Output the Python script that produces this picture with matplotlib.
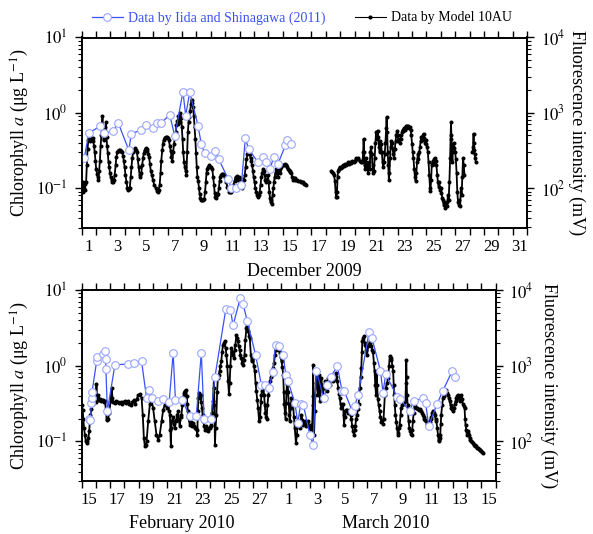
import matplotlib
matplotlib.use("Agg")
import matplotlib.pyplot as plt
from matplotlib.ticker import LogLocator, NullFormatter, FixedLocator, FixedFormatter
from matplotlib.lines import Line2D

plt.rcParams['font.family'] = ['Liberation Serif', 'DejaVu Serif']
plt.rcParams['mathtext.fontset'] = 'stix'

# ---------------- data: December 2009 (x = day of month, Dec 1 00:00 = 1) ----------------
dec_iida_day = [1.19, 1.51, 2.28, 2.55, 3.20, 3.55, 4.29, 4.47, 5.17, 5.51,
                5.97, 6.28, 6.56, 7.14, 7.49, 8.06, 8.25, 8.53, 9.11, 9.34,
                9.57, 10.03, 10.31, 10.56, 11.19, 11.42, 11.72, 12.12, 12.40, 12.63,
                13.28, 13.62, 13.85, 14.13, 14.37, 14.67, 15.19, 15.32, 15.60]
dec_iida_chl = [0.25, 0.54, 0.66, 0.54, 0.57, 0.74, 0.32, 0.53, 0.59, 0.68,
                0.63, 0.74, 0.74, 0.94, 0.49, 1.91, 0.92, 1.88, 0.67, 0.38,
                0.29, 0.27, 0.31, 0.24, 0.134, 0.10, 0.10, 0.109, 0.46, 0.33,
                0.22, 0.26, 0.22, 0.18, 0.26, 0.21, 0.37, 0.43, 0.39]

dec_a_day = [1.02, 1.07, 1.12, 1.17, 1.22, 1.27, 1.32, 1.37, 1.42, 1.47,
             1.52, 1.57, 1.62, 1.67, 1.72, 1.77, 1.82, 1.87, 1.92, 1.97,
             2.02, 2.08, 2.13, 2.18, 2.23, 2.28, 2.33, 2.38, 2.42, 2.46,
             2.50, 2.54, 2.58, 2.62, 2.66, 2.70, 2.74, 2.78, 2.83, 2.88,
             2.93, 2.98, 3.03, 3.09, 3.14, 3.20, 3.26, 3.31, 3.37, 3.43,
             3.49, 3.54, 3.59, 3.66, 3.71, 3.77, 3.83, 3.89, 3.94, 4.00,
             4.06, 4.13, 4.20, 4.27, 4.32, 4.36, 4.42, 4.47, 4.53, 4.59,
             4.67, 4.75, 4.81, 4.86, 4.92, 4.98, 5.04, 5.10, 5.16, 5.22,
             5.28, 5.33, 5.40, 5.47, 5.53, 5.59, 5.65, 5.70, 5.76, 5.82,
             5.89, 5.97, 6.06, 6.17, 6.24, 6.30, 6.37, 6.44, 6.50, 6.55,
             6.62, 6.67, 6.72, 6.78, 6.86, 6.94, 7.02, 7.08, 7.15, 7.21,
             7.26, 7.32, 7.38, 7.44, 7.50, 7.56, 7.61, 7.65, 7.70, 7.74,
             7.79, 7.83, 7.88, 7.93, 7.98, 8.03, 8.08, 8.14, 8.19, 8.24,
             8.30, 8.35, 8.40, 8.45, 8.50, 8.56, 8.61, 8.66, 8.71, 8.76,
             8.82, 8.87, 8.92, 8.97, 9.02, 9.07, 9.12, 9.18, 9.22, 9.28,
             9.35, 9.41, 9.48, 9.54, 9.60, 9.65, 9.70, 9.75, 9.80, 9.87,
             9.96, 10.03, 10.10, 10.16, 10.22, 10.27, 10.31, 10.38, 10.44, 10.50,
             10.56, 10.61, 10.66, 10.72, 10.78, 10.84, 10.91, 10.96, 11.02, 11.08,
             11.14, 11.19, 11.27, 11.35, 11.42, 11.48, 11.57, 11.65, 11.72, 11.77,
             11.82, 11.87, 11.95, 12.02, 12.09, 12.15, 12.23, 12.30, 12.36, 12.42,
             12.48, 12.54, 12.60, 12.66, 12.70, 12.76, 12.81, 12.87, 12.93, 12.98,
             13.04, 13.10, 13.16, 13.23, 13.28, 13.34, 13.40, 13.46, 13.51, 13.57,
             13.63, 13.69, 13.74, 13.80, 13.86, 13.91, 13.97, 14.02, 14.07, 14.11,
             14.16, 14.21, 14.26, 14.30, 14.35, 14.40, 14.44, 14.50, 14.55, 14.60,
             14.67, 14.72, 14.78, 14.82, 14.90, 15.00, 15.10, 15.15, 15.21, 15.26,
             15.33, 15.37, 15.43, 15.48, 15.54, 15.60, 15.66, 15.71, 15.77, 15.83,
             15.89, 15.94, 16.01, 16.09, 16.17, 16.27, 16.34, 16.41, 16.48, 16.55,
             16.62]
dec_a_chl = [0.10, 0.09, 0.12, 0.10, 0.093, 0.115, 0.12, 0.20, 0.33, 0.43,
             0.46, 0.48, 0.42, 0.47, 0.45, 0.46, 0.42, 0.36, 0.30, 0.23,
             0.18, 0.155, 0.14, 0.13, 0.17, 0.23, 0.36, 0.50, 0.64, 0.90,
             0.52, 0.45, 0.43, 0.55, 0.65, 0.75, 0.48, 0.36, 0.29, 0.22,
             0.19, 0.16, 0.14, 0.13, 0.12, 0.12, 0.13, 0.15, 0.20, 0.26,
             0.30, 0.31, 0.32, 0.31, 0.32, 0.31, 0.30, 0.27, 0.23, 0.19,
             0.15, 0.12, 0.10, 0.095, 0.097, 0.10, 0.14, 0.19, 0.25, 0.30,
             0.32, 0.34, 0.32, 0.30, 0.24, 0.19, 0.15, 0.14, 0.16, 0.20,
             0.25, 0.29, 0.32, 0.34, 0.33, 0.31, 0.28, 0.26, 0.21, 0.17,
             0.15, 0.13, 0.11, 0.10, 0.092, 0.09, 0.095, 0.11, 0.16, 0.23,
             0.32, 0.39, 0.44, 0.47, 0.48, 0.48, 0.46, 0.43, 0.36, 0.31,
             0.26, 0.23, 0.30, 0.39, 0.47, 0.55, 0.68, 0.79, 0.70, 0.92,
             0.80, 0.75, 1.0, 0.85, 0.65, 0.45, 0.30, 0.22, 0.19, 0.17,
             0.15, 0.30, 0.55, 0.75, 0.88, 1.05, 1.30, 1.5, 1.35, 1.2,
             0.90, 0.64, 0.45, 0.29, 0.19, 0.14, 0.125, 0.10, 0.084, 0.075,
             0.07, 0.069, 0.07, 0.072, 0.09, 0.12, 0.16, 0.18, 0.19, 0.20,
             0.19, 0.19, 0.18, 0.14, 0.11, 0.085, 0.077, 0.075, 0.08, 0.084,
             0.10, 0.125, 0.14, 0.15, 0.155, 0.155, 0.15, 0.145, 0.14, 0.12,
             0.105, 0.10, 0.09, 0.088, 0.09, 0.095, 0.11, 0.125, 0.14, 0.13,
             0.145, 0.13, 0.14, 0.135, 0.12, 0.10, 0.11, 0.13, 0.15, 0.19,
             0.24, 0.28, 0.30, 0.29, 0.28, 0.25, 0.23, 0.20, 0.17, 0.14,
             0.12, 0.10, 0.09, 0.08, 0.077, 0.082, 0.09, 0.11, 0.14, 0.16,
             0.18, 0.17, 0.15, 0.13, 0.12, 0.13, 0.15, 0.12, 0.09, 0.075,
             0.065, 0.069, 0.062, 0.08, 0.10, 0.12, 0.14, 0.16, 0.18, 0.16,
             0.14, 0.17, 0.18, 0.16, 0.19, 0.20, 0.20, 0.21, 0.20, 0.20,
             0.19, 0.18, 0.175, 0.17, 0.165, 0.16, 0.14, 0.13, 0.135, 0.135,
             0.13, 0.13, 0.128, 0.125, 0.125, 0.122, 0.12, 0.12, 0.115, 0.112,
             0.11]

dec_b_day = [18.39, 18.45, 18.51, 18.57, 18.63, 18.68, 18.72, 18.75, 18.78, 18.82,
             18.85, 18.90, 18.96, 19.03, 19.10, 19.17, 19.25, 19.33, 19.40, 19.48,
             19.55, 19.63, 19.70, 19.77, 19.85, 19.93, 20.01, 20.09, 20.15, 20.21,
             20.27, 20.35, 20.43, 20.50, 20.55, 20.60, 20.63, 20.67, 20.70, 20.73,
             20.77, 20.83, 20.90, 20.95, 21.00, 21.05, 21.10, 21.15, 21.20, 21.25,
             21.30, 21.35, 21.40, 21.45, 21.50, 21.55, 21.60, 21.65, 21.70, 21.75,
             21.80, 21.85, 21.90, 21.95, 22.00, 22.05, 22.10, 22.15, 22.20, 22.23,
             22.27, 22.31, 22.35, 22.39, 22.43, 22.47, 22.51, 22.55, 22.60, 22.65,
             22.70, 22.75, 22.80, 22.85, 22.90, 22.95, 23.00, 23.05, 23.10, 23.15,
             23.20, 23.25, 23.30, 23.35, 23.40, 23.45, 23.50, 23.55, 23.60, 23.65,
             23.70, 23.75, 23.80, 23.85, 23.90, 23.95, 24.00, 24.05, 24.10, 24.15,
             24.20, 24.25, 24.30, 24.35, 24.40, 24.45, 24.50, 24.55, 24.60, 24.65,
             24.70, 24.75, 24.80, 24.85, 24.90, 24.95, 25.00, 25.05, 25.10, 25.15,
             25.20, 25.25, 25.28, 25.33, 25.37, 25.43, 25.50, 25.55, 25.60, 25.65,
             25.70, 25.75, 25.80, 25.85, 25.90, 25.95, 26.00, 26.05, 26.10, 26.15,
             26.20, 26.25, 26.30, 26.35, 26.40, 26.45, 26.50, 26.55, 26.60, 26.65,
             26.68, 26.71, 26.74, 26.77, 26.81, 26.85, 26.90, 26.95, 27.00, 27.05,
             27.10, 27.15, 27.20, 27.25, 27.30, 27.35, 27.40, 27.45, 27.50, 27.55,
             27.60, 27.65]
dec_b_chl = [0.17, 0.165, 0.16, 0.15, 0.125, 0.09, 0.077, 0.076, 0.09, 0.14,
             0.17, 0.18, 0.19, 0.185, 0.19, 0.20, 0.195, 0.21, 0.20, 0.21,
             0.22, 0.21, 0.22, 0.215, 0.23, 0.22, 0.23, 0.25, 0.245, 0.24,
             0.25, 0.23, 0.22, 0.23, 0.22, 0.30, 0.45, 0.30, 0.20, 0.18,
             0.25, 0.22, 0.19, 0.16, 0.22, 0.18, 0.30, 0.35, 0.28, 0.20,
             0.16, 0.17, 0.25, 0.40, 0.55, 0.45, 0.58, 0.48, 0.35, 0.30,
             0.42, 0.38, 0.30, 0.22, 0.19, 0.22, 0.28, 0.40, 0.62, 0.87,
             0.55, 0.30, 0.20, 0.127, 0.16, 0.25, 0.35, 0.42, 0.40, 0.33,
             0.28, 0.25, 0.33, 0.42, 0.50, 0.58, 0.50, 0.42, 0.45, 0.40,
             0.45, 0.50, 0.55, 0.60, 0.58, 0.62, 0.60, 0.66, 0.63, 0.66,
             0.64, 0.66, 0.62, 0.64, 0.60, 0.50, 0.38, 0.30, 0.25, 0.18,
             0.14, 0.125, 0.16, 0.22, 0.28, 0.24, 0.30, 0.35, 0.42, 0.48,
             0.44, 0.50, 0.53, 0.46, 0.40, 0.43, 0.38, 0.35, 0.30, 0.22,
             0.15, 0.10, 0.092, 0.13, 0.20, 0.23, 0.21, 0.24, 0.25, 0.23,
             0.20, 0.15, 0.12, 0.105, 0.12, 0.095, 0.10, 0.085, 0.075, 0.07,
             0.06, 0.065, 0.055, 0.06, 0.058, 0.065, 0.08, 0.07, 0.12, 0.25,
             0.45, 0.75, 0.50, 0.30, 0.22, 0.35, 0.40, 0.34, 0.30, 0.24,
             0.16, 0.09, 0.065, 0.06, 0.07, 0.058, 0.10, 0.08, 0.14, 0.25,
             0.20, 0.15]

dec_c_day = [28.20, 28.25, 28.28, 28.30, 28.33, 28.36, 28.40, 28.44]
dec_c_chl = [0.30, 0.35, 0.53, 0.40, 0.32, 0.28, 0.25, 0.22]

dec_tick_labels = ['1', '3', '5', '7', '9', '11', '13', '15', '17', '19',
                   '21', '23', '25', '27', '29', '31']

# ---------------- data: Feb-Mar 2010 (x = day, Feb 15 00:00 = 15, Mar 1 00:00 = 29) ----------------
fm_iida_day = [15.56, 15.63, 15.68, 15.71, 15.74, 16.06, 16.11, 16.49, 16.64, 16.69,
               16.71, 16.81, 17.34, 18.26, 18.70, 19.21, 19.56, 19.71, 19.97, 20.37,
               20.68, 21.14, 21.42, 21.58, 22.07, 22.58, 23.04, 23.39, 23.59, 24.05,
               24.34, 25.11, 25.43, 25.62, 26.12, 26.31, 26.61, 27.19, 27.60, 27.87,
               28.13, 28.39, 28.59, 28.83, 29.13, 29.31, 29.47, 29.95, 30.15, 30.35,
               30.55, 30.99, 31.22, 31.45, 31.97, 32.21, 32.46, 32.93, 33.25, 33.39,
               33.97, 34.13, 34.37, 35.14, 35.35, 35.94, 36.12, 36.31, 37.10, 37.34,
               37.98, 38.28, 38.93, 39.11, 39.32, 39.90, 40.32, 40.98, 41.14]
fm_iida_chl = [0.20, 0.19, 0.32, 0.38, 0.45, 1.14, 1.30, 1.43, 1.58, 1.22,
               0.91, 0.25, 1.03, 1.05, 1.08, 1.14, 0.37, 0.48, 0.37, 0.34,
               0.36, 0.33, 1.47, 0.35, 0.35, 0.215, 0.215, 1.47, 0.20, 0.195,
               0.70, 5.6, 5.5, 3.4, 7.9, 6.6, 3.9, 1.4, 0.56, 0.56,
               0.50, 0.82, 1.89, 1.8, 1.37, 0.76, 0.62, 0.32, 0.175, 0.31,
               0.30, 0.123, 0.091, 0.86, 0.37, 0.55, 0.72, 0.98, 0.46, 0.47,
               0.25, 0.29, 0.41, 2.75, 2.3, 0.86, 0.44, 0.78, 0.39, 0.36,
               0.25, 0.345, 0.37, 0.32, 0.16, 0.31, 0.47, 0.86, 0.72]

fm_day = [15.03, 15.08, 15.13, 15.18, 15.24, 15.30, 15.36, 15.42, 15.48, 15.54,
          15.58, 15.63, 15.70, 15.78, 15.86, 15.94, 16.00, 16.05, 16.08, 16.13,
          16.17, 16.23, 16.28, 16.35, 16.42, 16.53, 16.59, 16.64, 16.71, 16.76,
          16.81, 16.87, 16.94, 17.04, 17.11, 17.17, 17.24, 17.34, 17.44, 17.54,
          17.64, 17.74, 17.84, 17.94, 18.04, 18.14, 18.24, 18.34, 18.44, 18.56,
          18.66, 18.76, 18.86, 18.98, 19.09, 19.21, 19.29, 19.37, 19.44, 19.51,
          19.56, 19.67, 19.79, 19.91, 20.01, 20.13, 20.25, 20.37, 20.48, 20.61,
          20.72, 20.82, 20.91, 20.99, 21.07, 21.14, 21.19, 21.23, 21.26, 21.29,
          21.32, 21.42, 21.47, 21.53, 21.59, 21.65, 21.70, 21.76, 21.82, 21.88,
          21.94, 22.00, 22.06, 22.11, 22.17, 22.22, 22.28, 22.34, 22.38, 22.41,
          22.45, 22.48, 22.58, 22.66, 22.74, 22.82, 22.90, 22.96, 23.01, 23.06,
          23.11, 23.15, 23.18, 23.24, 23.29, 23.34, 23.39, 23.43, 23.49, 23.54,
          23.59, 23.64, 23.69, 23.74, 23.80, 23.87, 23.92, 23.98, 24.04, 24.10,
          24.16, 24.21, 24.25, 24.28, 24.31, 24.35, 24.39, 24.45, 24.50, 24.55,
          24.61, 24.67, 24.73, 24.79, 24.85, 24.91, 24.97, 25.03, 25.09, 25.15,
          25.21, 25.27, 25.33, 25.38, 25.43, 25.50, 25.56, 25.62, 25.68, 25.73,
          25.78, 25.85, 25.91, 25.96, 26.02, 26.08, 26.13, 26.19, 26.25, 26.31,
          26.37, 26.42, 26.48, 26.55, 26.62, 26.68, 26.74, 26.79, 26.86, 26.91,
          26.95, 27.02, 27.07, 27.14, 27.19, 27.25, 27.31, 27.37, 27.44, 27.51,
          27.57, 27.60, 27.66, 27.72, 27.79, 27.84, 27.88, 27.93, 27.97, 28.02,
          28.09, 28.14, 28.20, 28.26, 28.32, 28.38, 28.43, 28.49, 28.55, 28.61,
          28.66, 28.72, 28.78, 28.84, 28.89, 28.95, 29.01, 29.07, 29.13, 29.17,
          29.20, 29.25, 29.29, 29.33, 29.36, 29.39, 29.43, 29.47, 29.52, 29.56,
          29.59, 29.65, 29.71, 29.77, 29.82, 29.88, 29.94, 30.02, 30.09, 30.15,
          30.20, 30.25, 30.29, 30.35, 30.41, 30.47, 30.53, 30.59, 30.64, 30.70,
          30.76, 30.82, 30.87, 30.93, 30.99, 31.06, 31.11, 31.15, 31.20, 31.22,
          31.25, 31.29, 31.34, 31.38, 31.42, 31.47, 31.52, 31.57, 31.60, 31.64,
          31.68, 31.71, 31.75, 31.80, 31.85, 31.91, 31.97, 32.05, 32.11, 32.17,
          32.23, 32.28, 32.34, 32.40, 32.46, 32.51, 32.57, 32.63, 32.68, 32.74,
          32.80, 32.86, 32.92, 32.98, 33.04, 33.09, 33.15, 33.21, 33.27, 33.32,
          33.36, 33.39, 33.44, 33.49, 33.55, 33.62, 33.70, 33.79, 33.85, 33.90,
          33.96, 34.02, 34.09, 34.14, 34.18, 34.24, 34.30, 34.36, 34.41, 34.46,
          34.50, 34.55, 34.60, 34.64, 34.67, 34.72, 34.78, 34.83, 34.87, 34.94,
          35.01, 35.07, 35.12, 35.18, 35.23, 35.30, 35.36, 35.42, 35.48, 35.53,
          35.58, 35.63, 35.67, 35.71, 35.76, 35.82, 35.88, 35.94, 36.00, 36.06,
          36.11, 36.16, 36.25, 36.32, 36.40, 36.48, 36.54, 36.59, 36.65, 36.71,
          36.77, 36.83, 36.87, 36.90, 36.95, 36.99, 37.05, 37.10, 37.15, 37.20,
          37.25, 37.29, 37.35, 37.40, 37.46, 37.52, 37.58, 37.64, 37.69, 37.73,
          37.75, 37.77, 37.80, 37.85, 37.91, 37.97, 38.03, 38.08, 38.12, 38.17,
          38.21, 38.27, 38.33, 38.41, 38.49, 38.56, 38.63, 38.71, 38.79, 38.85,
          38.91, 38.97, 39.02, 39.08, 39.14, 39.20, 39.26, 39.34, 39.39, 39.45,
          39.51, 39.57, 39.62, 39.68, 39.74, 39.80, 39.86, 39.92, 39.97, 40.01,
          40.04, 40.09, 40.13, 40.17, 40.20, 40.26, 40.32, 40.37, 40.43, 40.49,
          40.55, 40.61, 40.68, 40.73, 40.79, 40.85, 40.91, 40.96, 41.02, 41.08,
          41.14, 41.20, 41.25, 41.31, 41.37, 41.43, 41.49, 41.54, 41.60, 41.66,
          41.72, 41.78, 41.83, 41.87, 41.90, 41.95, 41.99, 42.04, 42.09, 42.14,
          42.18, 42.24, 42.29, 42.35, 42.41, 42.47, 42.53, 42.58, 42.64, 42.71,
          42.77, 42.83, 42.88, 42.94, 43.00, 43.06, 43.12]
fm_chl = [0.30, 0.26, 0.20, 0.15, 0.12, 0.10, 0.095, 0.10, 0.11, 0.136,
          0.18, 0.226, 0.27, 0.31, 0.34, 0.37, 0.33, 0.57, 0.35, 0.41,
          0.37, 0.35, 0.36, 0.34, 0.35, 0.35, 0.33, 0.34, 0.26, 0.20,
          0.19, 0.20, 0.24, 0.34, 0.51, 0.37, 0.33, 0.32, 0.34, 0.33,
          0.32, 0.33, 0.31, 0.33, 0.34, 0.32, 0.34, 0.31, 0.30, 0.33,
          0.35, 0.31, 0.36, 0.41, 0.42, 0.37, 0.226, 0.11, 0.086, 0.09,
          0.10, 0.185, 0.31, 0.35, 0.28, 0.185, 0.123, 0.105, 0.123, 0.185,
          0.26, 0.30, 0.31, 0.28, 0.30, 0.25, 0.226, 0.14, 0.086, 0.15,
          0.185, 0.21, 0.17, 0.15, 0.19, 0.185, 0.22, 0.25, 0.19, 0.16,
          0.21, 0.226, 0.30, 0.37, 0.43, 0.46, 0.40, 0.48, 0.40, 0.31,
          0.25, 0.21, 0.167, 0.18, 0.16, 0.175, 0.16, 0.15, 0.15, 0.14,
          0.123, 0.25, 0.37, 0.44, 0.38, 0.41, 0.33, 0.28, 0.22, 0.185,
          0.16, 0.143, 0.16, 0.15, 0.14, 0.136, 0.15, 0.15, 0.16, 0.167,
          0.24, 0.34, 0.50, 0.69, 0.30, 0.09, 0.15, 0.226, 0.45, 0.69,
          0.75, 0.84, 1.0, 1.14, 1.5, 1.89, 2.0, 2.1, 1.7, 1.4,
          1.0, 0.62, 0.42, 0.60, 1.0, 1.7, 1.5, 1.4, 1.26, 1.6,
          1.89, 2.56, 2.3, 2.1, 1.8, 1.6, 1.4, 1.26, 1.1, 1.03,
          1.2, 1.4, 2.2, 3.14, 3.3, 2.84, 2.5, 2.3, 1.4, 1.2,
          1.14, 1.26, 1.0, 0.84, 0.6, 0.46, 0.35, 0.28, 0.185, 0.21,
          0.33, 0.41, 0.47, 0.51, 0.41, 0.30, 0.24, 0.21, 0.20, 0.30,
          0.41, 0.50, 0.62, 0.70, 0.76, 0.85, 0.93, 1.1, 1.4, 1.6,
          1.89, 1.8, 1.71, 1.6, 1.47, 1.3, 1.14, 0.95, 0.76, 0.45,
          0.31, 0.24, 0.20, 0.32, 0.46, 0.58, 0.69, 0.45, 0.31, 0.22,
          0.185, 0.28, 0.37, 0.33, 0.31, 0.21, 0.15, 0.095, 0.123, 0.17,
          0.185, 0.16, 0.15, 0.19, 0.226, 0.19, 0.167, 0.17, 0.185, 0.17,
          0.16, 0.175, 0.185, 0.16, 0.15, 0.167, 0.14, 0.145, 0.30, 1.03,
          0.40, 0.123, 0.25, 0.41, 0.60, 0.84, 0.55, 0.41, 0.50, 0.76,
          0.50, 0.34, 0.50, 0.69, 0.55, 0.41, 0.50, 0.62, 0.52, 0.46,
          0.58, 0.69, 0.60, 0.56, 0.70, 0.76, 0.66, 0.62, 0.66, 0.69,
          0.72, 0.80, 0.62, 0.51, 0.42, 0.37, 0.31, 0.28, 0.30, 0.31,
          0.22, 0.167, 0.21, 0.25, 0.26, 0.26, 0.24, 0.24, 0.22, 0.20,
          0.16, 0.136, 0.123, 0.14, 0.16, 0.20, 0.226, 0.27, 0.31, 0.42,
          0.51, 0.70, 0.93, 1.5, 2.1, 2.3, 2.44, 2.0, 1.89, 1.6,
          1.4, 1.8, 1.89, 2.0, 2.1, 1.8, 1.6, 1.5, 1.1, 0.84,
          0.55, 0.41, 0.84, 0.55, 0.36, 0.30, 0.25, 0.21, 0.18, 0.19,
          0.17, 0.20, 0.41, 0.51, 0.60, 0.69, 1.0, 1.33, 1.2, 1.26,
          1.0, 0.84, 0.55, 0.41, 0.30, 0.226, 0.18, 0.15, 0.13, 0.123,
          0.15, 0.167, 0.22, 0.28, 0.30, 0.31, 0.33, 0.34, 0.34, 0.60,
          1.2, 0.70, 0.41, 0.30, 0.185, 0.15, 0.136, 0.125, 0.123, 0.14,
          0.185, 0.24, 0.29, 0.28, 0.28, 0.27, 0.26, 0.27, 0.25, 0.24,
          0.226, 0.21, 0.195, 0.19, 0.185, 0.17, 0.16, 0.17, 0.18, 0.195,
          0.21, 0.24, 0.25, 0.24, 0.226, 0.20, 0.185, 0.15, 0.123, 0.105,
          0.10, 0.11, 0.123, 0.17, 0.226, 0.30, 0.37, 0.40, 0.44, 0.46,
          0.48, 0.44, 0.41, 0.37, 0.34, 0.30, 0.28, 0.27, 0.25, 0.28,
          0.31, 0.34, 0.37, 0.40, 0.41, 0.37, 0.34, 0.38, 0.41, 0.36,
          0.31, 0.29, 0.28, 0.20, 0.167, 0.14, 0.123, 0.13, 0.136, 0.12,
          0.11, 0.105, 0.10, 0.098, 0.095, 0.09, 0.09, 0.088, 0.086, 0.082,
          0.082, 0.08, 0.078, 0.076, 0.074, 0.072, 0.07]

fm_tick_labels = ['15', '17', '19', '21', '23', '25', '27', '1', '3', '5',
                  '7', '9', '11', '13', '15']

# ---------------- styling ----------------
BLUE = '#3a52f5'
CIRC = '#9aa6ff'
W, H = 593, 534

fig = plt.figure(figsize=(W / 100, H / 100), dpi=100)
ax1 = fig.add_axes([81.5 / W, 1 - 227.5 / H, (527 - 81.5) / W, 190 / H])
ax2 = fig.add_axes([81.5 / W, 1 - 481 / H, (495.5 - 81.5) / W, 191 / H])

black_kw = dict(color='black', lw=1.3, marker='o', ms=1.9, mfc='black', mec='black', zorder=2)
blue_kw = dict(color=BLUE, lw=0.9, marker='o', ms=5.5, mfc='white', mec=CIRC, mew=0.8, zorder=3)

ax1.plot(dec_a_day, dec_a_chl, **black_kw)
ax1.plot(dec_b_day, dec_b_chl, **black_kw)
ax1.plot(dec_c_day, dec_c_chl, **black_kw)
ax1.plot(dec_iida_day, dec_iida_chl, **blue_kw)

ax2.plot(fm_day, fm_chl, **black_kw)
ax2.plot(fm_iida_day, fm_iida_chl, **blue_kw)


def style(ax, x0, x1, labels):
    ax.set_yscale('log')
    ax.set_ylim(0.03, 10)
    ax.set_xlim(x0, x1)
    ax.yaxis.set_major_locator(FixedLocator([0.1, 1, 10]))
    ax.yaxis.set_major_formatter(FixedFormatter([r'$10^{-1}$', r'$10^{0}$', r'$10^{1}$']))
    ax.yaxis.set_minor_locator(LogLocator(base=10, subs=range(2, 10)))
    ax.yaxis.set_minor_formatter(NullFormatter())
    ax.xaxis.set_major_locator(FixedLocator(list(range(int(x0), int(x1) + 1))))
    ax.xaxis.set_major_formatter(NullFormatter())
    pos = [int(x0) + 0.5 + 2 * i for i in range(len(labels))]
    ax.xaxis.set_minor_locator(FixedLocator(pos))
    ax.xaxis.set_minor_formatter(FixedFormatter(labels))
    ax.tick_params(axis='x', which='major', direction='out', length=5, width=1.0, top=True)
    ax.tick_params(axis='x', which='minor', length=0, pad=8, labelsize=12)
    ax.tick_params(axis='y', which='major', direction='out', length=5, width=1.0, pad=5, labelsize=12)
    ax.tick_params(axis='y', which='minor', direction='out', length=2.8, width=0.8)
    for s in ax.spines.values():
        s.set_linewidth(1.2)
    tw = ax.twinx()
    tw.set_yscale('log')
    tw.set_ylim(30, 10000)
    tw.yaxis.set_major_locator(FixedLocator([100, 1000, 10000]))
    tw.yaxis.set_major_formatter(FixedFormatter([r'$10^{2}$', r'$10^{3}$', r'$10^{4}$']))
    tw.yaxis.set_minor_locator(LogLocator(base=10, subs=range(2, 10)))
    tw.yaxis.set_minor_formatter(NullFormatter())
    tw.tick_params(axis='y', which='major', direction='out', length=5, width=1.0, pad=5, labelsize=12)
    tw.tick_params(axis='y', which='minor', direction='out', length=2.8, width=0.8)
    for s in tw.spines.values():
        s.set_linewidth(1.2)
    ylab = 'Chlorophyll $a$ (\u03bcg L$^{-1}$)'
    ax.set_ylabel(ylab, fontsize=13)
    tw.set_ylabel('Fluorescence intensity (mV)', fontsize=13, rotation=270, va='center')
    return tw


tw1 = style(ax1, 1, 32, dec_tick_labels)
tw2 = style(ax2, 15, 44, fm_tick_labels)
ax1.yaxis.set_label_coords(-0.114, 0.5)
tw1.yaxis.set_label_coords(1.112, 0.5)
ax2.yaxis.set_label_coords(-0.122, 0.5)
tw2.yaxis.set_label_coords(1.129, 0.5)

fig.text(304 / W, 1 - 271 / H, 'December 2009', ha='center', va='center', fontsize=13)
fig.text(182 / W, 1 - 524 / H, 'February 2010', ha='center', va='center', fontsize=13)
fig.text(386 / W, 1 - 524 / H, 'March 2010', ha='center', va='center', fontsize=13)

# legend
h_blue = Line2D([], [], **blue_kw)
h_black = Line2D([], [], color='black', lw=0.8, marker='o', ms=2.0, mfc='black')
leg_kw = dict(loc='center left', bbox_transform=fig.transFigure, frameon=False,
              borderpad=0, borderaxespad=0, handlelength=2.2, handletextpad=0.4,
              numpoints=1, fontsize=10)
leg1 = fig.legend([h_blue], ['Data by Iida and Shinagawa (2011)'],
                  bbox_to_anchor=(92 / W, 1 - 18 / H), **leg_kw)
leg1.get_texts()[0].set_color(BLUE)
leg2 = fig.legend([h_black], ['Data by Model 10AU'],
                  bbox_to_anchor=(355 / W, 1 - 18 / H), **leg_kw)

fig.savefig('out.png', dpi=100)
